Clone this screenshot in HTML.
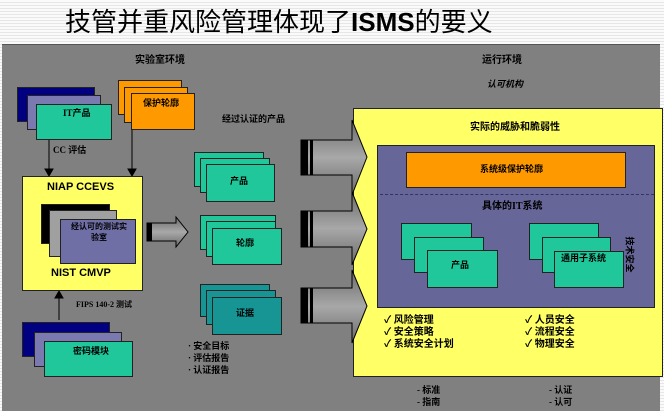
<!DOCTYPE html>
<html><head><meta charset="utf-8"><style>
*{margin:0;padding:0;box-sizing:border-box}
body{width:664px;height:411px;overflow:hidden;background:repeating-linear-gradient(#fafafa 0 2px,#e6e6e6 2px 3px);position:relative;font-family:"Liberation Sans","Noto Sans CJK SC",sans-serif;}
.a{position:absolute}
.b{position:absolute;border:1px solid #222}
.t{position:absolute;font-weight:bold;font-size:9px;color:#000;white-space:nowrap;font-family:"Liberation Serif","Noto Sans CJK SC",serif}
.n{background:#000080}.l{background:#7a7ab0}.g{background:#1fc79a}.o{background:#ff9900}.d{background:#179494}
</style></head><body>
<div class="a" style="left:65px;top:2px;font-size:26px;color:#000;font-family:'Liberation Sans','Noto Sans CJK SC',sans-serif;white-space:nowrap">技管并重风险管理体现了<b>ISMS</b>的要义</div>
<div class="a" style="left:2px;top:44px;width:658px;height:367px;background:#808080;border-top:1px solid #555"></div>
<div class="t" style="left:135px;top:51px;font-size:10px">实验室环境</div>
<div class="t" style="left:482px;top:51px;font-size:10px">运行环境</div>
<div class="t" style="left:487px;top:77px;font-style:italic">认可机构</div>
<div class="b n" style="left:17px;top:87px;width:78px;height:35px"></div>
<div class="b l" style="left:27px;top:95px;width:74px;height:35px"></div>
<div class="b g" style="left:36px;top:104px;width:76px;height:36px"></div>
<div class="t" style="left:63px;top:106px">IT产品</div>
<div class="b o" style="left:118px;top:80px;width:64px;height:35px"></div>
<div class="b o" style="left:124px;top:87px;width:64px;height:36px"></div>
<div class="b o" style="left:131px;top:93px;width:64px;height:37px"></div>
<div class="t" style="left:143px;top:96px">保护轮廓</div>
<div class="t" style="left:53px;top:143px">CC 评估</div>
<svg class="a" style="left:0;top:0" width="664" height="411">
<g stroke="#000" fill="#000"><line x1="49" y1="140" x2="49" y2="170"/><polygon points="45,169 53,169 49,176"/>
<line x1="132" y1="130" x2="132" y2="170"/><polygon points="128,169 136,169 132,176"/>
<line x1="59" y1="320" x2="59" y2="297"/><polygon points="55,298 63,298 59,291"/></g>
</svg>
<div class="b" style="left:22px;top:176px;width:121px;height:115px;background:#ffff66"></div>
<div class="t" style="left:47px;top:181px;font-size:11px;font-family:'Liberation Sans',sans-serif">NIAP CCEVS</div>
<div class="b" style="left:41px;top:204px;width:69px;height:40px;background:#000"></div>
<div class="b" style="left:49px;top:210px;width:68px;height:47px;background:#a0a0a0"></div>
<div class="b l" style="left:60px;top:219px;width:76px;height:45px;background:#6f6fa6"></div>
<div class="t" style="left:61px;top:221px;font-size:8px;text-align:center;width:76px">经认可的测试实<br>验室</div>
<div class="t" style="left:51px;top:267px;font-size:11px;font-family:'Liberation Sans',sans-serif">NIST CMVP</div>
<div class="t" style="left:76px;top:299px;font-size:8px">FIPS 140-2 测试</div>
<div class="b n" style="left:22px;top:322px;width:88px;height:35px"></div>
<div class="b l" style="left:34px;top:332px;width:88px;height:35px"></div>
<div class="b g" style="left:44px;top:341px;width:89px;height:36px"></div>
<div class="t" style="left:73px;top:344px">密码模块</div>
<div class="t" style="left:222px;top:112px">经过认证的产品</div>
<div class="b g" style="left:194px;top:152px;width:70px;height:35px"></div>
<div class="b g" style="left:200px;top:158px;width:70px;height:35px"></div>
<div class="b g" style="left:206px;top:164px;width:69px;height:38px"></div>
<div class="t" style="left:230px;top:174px">产品</div>
<div class="b g" style="left:200px;top:215px;width:76px;height:35px"></div>
<div class="b g" style="left:206px;top:221px;width:70px;height:36px"></div>
<div class="b g" style="left:212px;top:228px;width:70px;height:37px"></div>
<div class="t" style="left:236px;top:236px">轮廓</div>
<div class="b d" style="left:200px;top:284px;width:70px;height:33px"></div>
<div class="b d" style="left:206px;top:290px;width:70px;height:35px"></div>
<div class="b d" style="left:212px;top:297px;width:70px;height:38px"></div>
<div class="t" style="left:236px;top:306px">证据</div>
<div class="t" style="left:188px;top:340px;line-height:12px">· 安全目标<br>· 评估报告<br>· 认证报告</div>
<div class="b" style="left:353px;top:108px;width:310px;height:269px;background:#ffff66"></div>
<svg class="a" style="left:0;top:0" width="664" height="411">
<defs><linearGradient id="gg" x1="0" y1="0" x2="0" y2="1"><stop offset="0" stop-color="#6a6a6a"/><stop offset=".5" stop-color="#a8a8a8"/><stop offset="1" stop-color="#6a6a6a"/></linearGradient></defs>
<g stroke="#000" stroke-width="1" fill="url(#gg)">
<polygon points="147,223 176,223 176,217 188,232 176,247 176,241 147,241"/>
<polygon points="301,140 352,140 352,120 367,157 352,195 352,175 301,175"/>
<polygon points="301,211 352,211 352,192 367,229 352,265 352,247 301,247"/>
<polygon points="301,288 352,288 352,270 367,306 352,343 352,323 301,323"/>
</g>
<g fill="#000"><rect x="147" y="223" width="5" height="18"/><rect x="301" y="140" width="7" height="35"/><rect x="310" y="140" width="3" height="35"/>
<rect x="301" y="211" width="7" height="36"/><rect x="310" y="211" width="3" height="36"/>
<rect x="301" y="288" width="7" height="35"/><rect x="310" y="288" width="3" height="35"/></g>
</svg>
<div class="t" style="left:470px;top:118px;font-size:10px">实际的威胁和脆弱性</div>
<div class="b" style="left:377px;top:145px;width:278px;height:163px;background:#666699"></div>
<div class="b o" style="left:406px;top:152px;width:220px;height:36px"></div>
<div class="t" style="left:480px;top:162px">系统级保护轮廓</div>
<div class="a" style="left:380px;top:194px;width:274px;border-top:1px dashed #333366"></div>
<div class="t" style="left:482px;top:197px;font-size:10px">具体的IT系统</div>
<div class="b g" style="left:401px;top:223px;width:71px;height:37px"></div>
<div class="b g" style="left:414px;top:237px;width:70px;height:36px"></div>
<div class="b g" style="left:427px;top:250px;width:71px;height:38px"></div>
<div class="t" style="left:451px;top:258px">产品</div>
<div class="b g" style="left:529px;top:223px;width:70px;height:37px"></div>
<div class="b g" style="left:542px;top:237px;width:69px;height:36px"></div>
<div class="b g" style="left:554px;top:251px;width:70px;height:37px"></div>
<div class="t" style="left:561px;top:251px">通用子系统</div>
<div class="t" style="left:612px;top:248px;transform:rotate(90deg);font-size:9px">技术安全</div>
<div class="t" style="left:384px;top:315px;line-height:12px;font-size:10px">✓ 风险管理<br>✓ 安全策略<br>✓ 系统安全计划</div>
<div class="t" style="left:525px;top:315px;line-height:12px;font-size:10px">✓ 人员安全<br>✓ 流程安全<br>✓ 物理安全</div>
<div class="t" style="left:417px;top:384px;line-height:12px">- 标准<br>- 指南</div>
<div class="t" style="left:549px;top:384px;line-height:12px">- 认证<br>- 认可</div>
</body></html>
